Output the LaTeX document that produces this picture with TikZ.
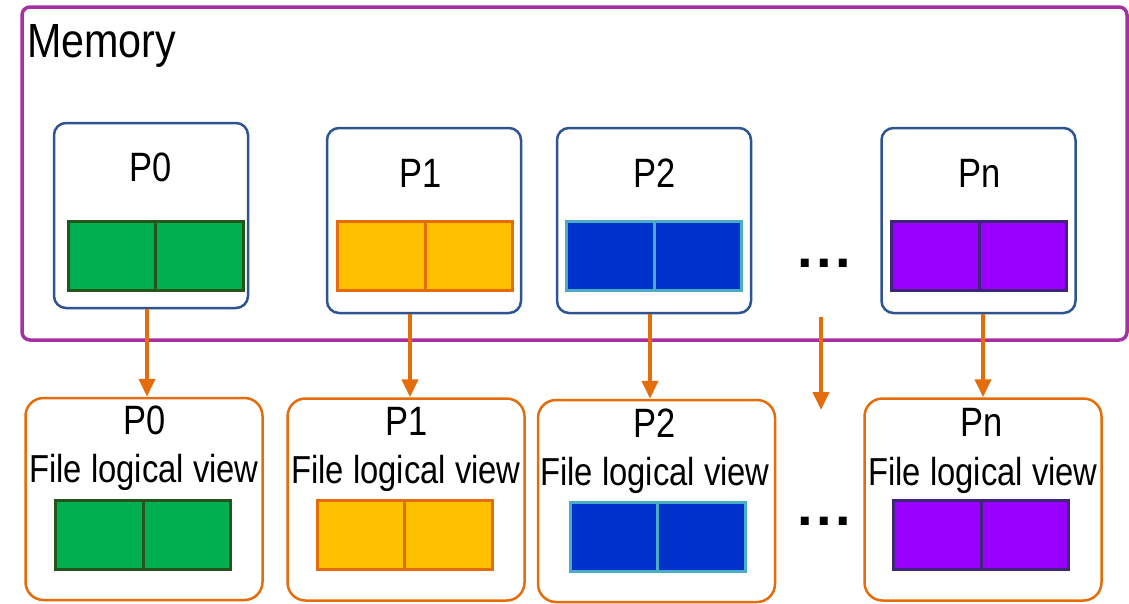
\documentclass[tikz,border=0pt]{standalone}
\usepackage{fontspec}
\setmainfont{Liberation Sans}
\usetikzlibrary{arrows.meta}

% line and fill colours
\definecolor{memline}{RGB}{165,48,160}
\definecolor{procline}{RGB}{46,84,146}
\definecolor{fileline}{RGB}{228,108,10}
\definecolor{greenfill}{RGB}{0,176,80}
\definecolor{greenline}{RGB}{38,84,26}
\definecolor{yellowfill}{RGB}{255,192,0}
\definecolor{bluefill}{RGB}{0,51,204}
\definecolor{blueline}{RGB}{75,172,198}
\definecolor{violetfill}{RGB}{153,0,255}
\definecolor{violetline}{RGB}{63,37,120}

% narrow sans text
\newcommand{\narrow}[1]{\scalebox{0.84}[1]{#1}}

\tikzset{
  membox/.style={draw=memline, line width=3.5pt, rounded corners=8pt,
    minimum width=1105pt, minimum height=333pt, inner sep=0pt},
  procbox/.style={draw=procline, line width=2.5pt, rounded corners=12pt,
    minimum width=194pt, minimum height=185pt, inner sep=0pt},
  filebox/.style={draw=fileline, line width=2.5pt, rounded corners=18pt,
    minimum width=237pt, minimum height=202pt, inner sep=0pt},
  cell/.style={line width=3pt, minimum width=87.5pt, minimum height=69pt, inner sep=0pt},
  greencell/.style={cell, fill=greenfill, draw=greenline},
  yellowcell/.style={cell, fill=yellowfill, draw=fileline},
  bluecell/.style={cell, fill=bluefill, draw=blueline},
  violetcell/.style={cell, fill=violetfill, draw=violetline},
  label/.style={anchor=base, inner sep=0pt, font=\fontsize{41}{48}\selectfont},
  viewlabel/.style={anchor=base, inner sep=0pt, font=\fontsize{39}{46}\selectfont},
  dots/.style={anchor=base, inner sep=0pt, font=\fontsize{56}{60}\selectfont\bfseries},
  arr/.style={draw=fileline, line width=4pt, -{Triangle[width=16pt,length=18pt]}}
}

\begin{document}
\begin{tikzpicture}[x=1pt, y=-1pt]
\useasboundingbox (0,0) rectangle (1129,603);

% memory container
\node[membox] (mem) at (574.5,173.5) {};
\node[anchor=base west, inner sep=0pt, font=\fontsize{48}{56}\selectfont] (memlabel) at (27,57) {\scalebox{0.86}[1]{Memory}};

% process boxes in memory
\node[procbox] (m0) at (151,215.5) {};
\node[procbox] (m1) at (424,220.5) {};
\node[procbox] (m2) at (654,220.5) {};
\node[procbox] (mn) at (978.5,220.5) {};

\node[label] (m0t) at (151,181) {\narrow{P0}};
\node[label] (m1t) at (421,187) {\narrow{P1}};
\node[label] (m2t) at (655,187) {\narrow{P2}};
\node[label] (mnt) at (980,187) {\narrow{Pn}};

% memory buffers, two blocks each
\node[greencell]  (b0l) at (111.75,256) {};
\node[greencell]  (b0r) at (199.25,256) {};
\node[yellowcell] (b1l) at (381.25,256) {};
\node[yellowcell] (b1r) at (468.75,256) {};
\node[bluecell]   (b2l) at (610.25,256) {};
\node[bluecell]   (b2r) at (697.75,256) {};
\node[violetcell] (bnl) at (935.25,256) {};
\node[violetcell] (bnr) at (1022.75,256) {};

\node[dots] (mdots) at (824,267) {.\kern3.4pt.\kern3.4pt.};

% file logical views
\node[filebox] (f0) at (144,499) {};
\node[filebox] (f1) at (406,499.5) {};
\node[filebox] (f2) at (656.5,501) {};
\node[filebox] (fn) at (983,499.5) {};

\node[label] (f0t) at (145,434) {\narrow{P0}};
\node[label] (f1t) at (407,435) {\narrow{P1}};
\node[label] (f2t) at (655,437) {\narrow{P2}};
\node[label] (fnt) at (982,436) {\narrow{Pn}};

\node[viewlabel] (f0v) at (144,482) {\narrow{File logical view}};
\node[viewlabel] (f1v) at (406,483) {\narrow{File logical view}};
\node[viewlabel] (f2v) at (655,485) {\narrow{File logical view}};
\node[viewlabel] (fnv) at (983,485) {\narrow{File logical view}};

\node[greencell]  (g0l) at (99.25,535) {};
\node[greencell]  (g0r) at (186.75,535) {};
\node[yellowcell] (g1l) at (360.75,535) {};
\node[yellowcell] (g1r) at (448.25,535) {};
\node[bluecell]   (g2l) at (613.75,537) {};
\node[bluecell]   (g2r) at (701.25,537) {};
\node[violetcell] (gnl) at (937.25,535) {};
\node[violetcell] (gnr) at (1024.75,535) {};

\node[dots] (fdots) at (824,525) {.\kern3.4pt.\kern3.4pt.};

% mapping arrows
\draw[arr] (m0.south -| 147,0) -- (f0.north -| 147,0);
\draw[arr] (m1.south -| 410,0) -- (f1.north -| 410,0);
\draw[arr] (m2.south -| 650,0) -- (f2.north -| 650,0);
\draw[arr] (mn.south -| 983,0) -- (fn.north -| 983,0);
\coordinate (dstart) at (821,317);
\coordinate (dend) at (821,410);
\draw[arr] (dstart) -- (dend);
\end{tikzpicture}
\end{document}
